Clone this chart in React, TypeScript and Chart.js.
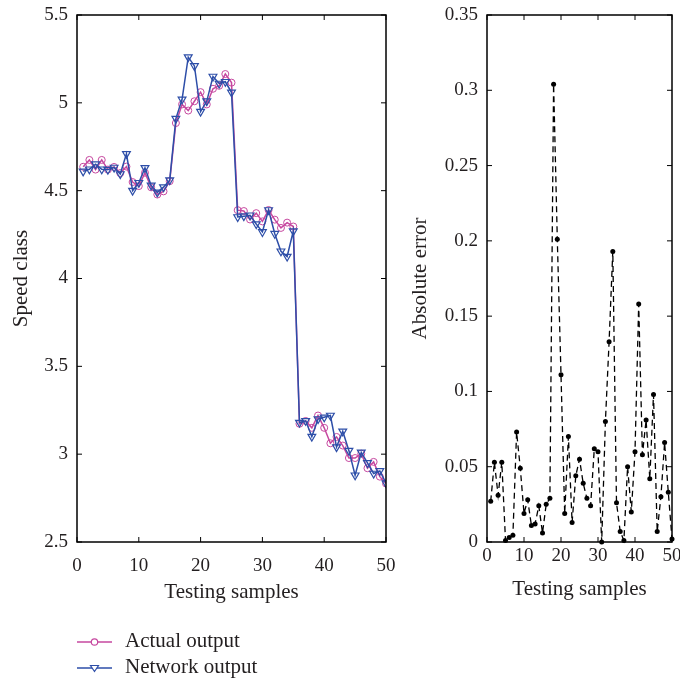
import React, { useEffect, useRef } from "react";
import { Chart, registerables } from "chart.js";

Chart.register(...registerables);

// ---------- data ----------
const samples = [
  1, 2, 3, 4, 5, 6, 7, 8, 9, 10, 11, 12, 13, 14, 15, 16, 17, 18, 19, 20, 21, 22, 23, 24, 25,
  26, 27, 28, 29, 30, 31, 32, 33, 34, 35, 36, 37, 38, 39, 40, 41, 42, 43, 44, 45, 46, 47, 48, 49, 50,
];
const actualOutput = [
  4.636, 4.675, 4.62, 4.675, 4.62, 4.635, 4.6, 4.637, 4.549, 4.526,
  4.602, 4.519, 4.478, 4.496, 4.554, 4.885, 4.991, 4.956, 5.009, 5.061,
  4.991, 5.08, 5.097, 5.164, 5.115, 4.389, 4.384, 4.336, 4.372, 4.325,
  4.39, 4.335, 4.288, 4.318, 4.296, 3.173, 3.189, 3.15, 3.22, 3.15,
  3.062, 3.098, 3.049, 2.978, 2.978, 3.003, 2.92, 2.956, 2.872, 2.833,
];
const networkOutput = [
  4.61, 4.622, 4.651, 4.622, 4.62, 4.632, 4.595, 4.71, 4.5, 4.545,
  4.63, 4.53, 4.49, 4.52, 4.56, 4.91, 5.02, 5.26, 5.21, 4.95,
  5.01, 5.15, 5.11, 5.12, 5.06, 4.35, 4.355, 4.36, 4.31, 4.265,
  4.39, 4.255, 4.155, 4.125, 4.27, 3.18, 3.19, 3.1, 3.2, 3.21,
  3.22, 3.04, 3.13, 3.02, 2.88, 3.01, 2.95, 2.89, 2.905, 2.835,
];
const absoluteError = [
  0.027, 0.053, 0.031, 0.053, 0.001, 0.003, 0.0045, 0.073, 0.049, 0.019,
  0.028, 0.011, 0.012, 0.024, 0.006, 0.025, 0.029, 0.304, 0.201, 0.111,
  0.019, 0.07, 0.013, 0.044, 0.055, 0.039, 0.029, 0.024, 0.062, 0.06,
  0.0, 0.08, 0.133, 0.193, 0.026, 0.007, 0.001, 0.05, 0.02, 0.06,
  0.158, 0.058, 0.081, 0.042, 0.098, 0.007, 0.03, 0.066, 0.033, 0.002,
];

const sampleTicks = [0, 10, 20, 30, 40, 50];
const sampleTickLabels = ["0", "10", "20", "30", "40", "50"];
const speedTicks = [2.5, 3, 3.5, 4, 4.5, 5, 5.5];
const speedTickLabels = ["2.5", "3", "3.5", "4", "4.5", "5", "5.5"];
const errorTicks = [0, 0.05, 0.1, 0.15, 0.2, 0.25, 0.3, 0.35];
const errorTickLabels = ["0", "0.05", "0.1", "0.15", "0.2", "0.25", "0.3", "0.35"];
const legendLabels = ["Actual output", "Network output"];

// ---------- style ----------
const FONT = '"Liberation Serif", "Times New Roman", serif';
const TEXT = "#231f20";
const PINK = "#c6479f";
const BLUE = "#2d4ea8";

const framePlugin = {
  id: "frameTicks",
  afterDatasetsDraw(chart: any) {
    const { ctx, chartArea: a, scales } = chart;
    const xs = scales.x;
    const ys = scales.y;
    const tl = 5;
    ctx.save();
    ctx.strokeStyle = "#000";
    ctx.lineWidth = 1;
    ctx.beginPath();
    xs.ticks.forEach((t: any) => {
      const px = xs.getPixelForValue(t.value);
      ctx.moveTo(px, a.bottom);
      ctx.lineTo(px, a.bottom - tl);
      ctx.moveTo(px, a.top);
      ctx.lineTo(px, a.top + tl);
    });
    ys.ticks.forEach((t: any) => {
      const py = ys.getPixelForValue(t.value);
      ctx.moveTo(a.left, py);
      ctx.lineTo(a.left + tl, py);
      ctx.moveTo(a.right, py);
      ctx.lineTo(a.right - tl, py);
    });
    ctx.stroke();
    ctx.lineWidth = 1.5;
    ctx.strokeRect(a.left, a.top, a.right - a.left, a.bottom - a.top);
    ctx.restore();
  },
};

const legendPlugin = {
  id: "customLegend",
  afterDraw(chart: any) {
    const ctx = chart.ctx;
    const rows = [
      { label: legendLabels[0], color: PINK, y: 642, marker: "circle" },
      { label: legendLabels[1], color: BLUE, y: 668, marker: "triangle" },
    ];
    ctx.save();
    rows.forEach((r) => {
      ctx.strokeStyle = r.color;
      ctx.lineWidth = 1.5;
      ctx.beginPath();
      ctx.moveTo(77, r.y);
      ctx.lineTo(112, r.y);
      ctx.stroke();
      ctx.beginPath();
      ctx.lineWidth = 1.2;
      if (r.marker === "circle") {
        ctx.fillStyle = "#fff";
        ctx.arc(94.5, r.y, 3.2, 0, Math.PI * 2);
        ctx.fill();
        ctx.stroke();
      } else {
        ctx.fillStyle = "#fff";
        ctx.moveTo(90.5, r.y - 2.5);
        ctx.lineTo(98.5, r.y - 2.5);
        ctx.lineTo(94.5, r.y + 3.5);
        ctx.closePath();
        ctx.fill();
        ctx.stroke();
      }
      ctx.fillStyle = TEXT;
      ctx.font = `21px ${FONT}`;
      ctx.textBaseline = "middle";
      ctx.textAlign = "left";
      ctx.fillText(r.label, 125, r.y - 1);
    });
    ctx.restore();
  },
};

function axisX(labelPad: number, height: number) {
  return {
    type: "linear" as const,
    min: 0,
    max: 50,
    afterBuildTicks: (s: any) => {
      s.ticks = sampleTicks.map((v) => ({ value: v }));
    },
    afterFit: (s: any) => {
      s.height = height;
      s.paddingLeft = 0;
      s.paddingRight = 0;
    },
    grid: { display: false, drawTicks: false },
    border: { display: false },
    ticks: {
      padding: labelPad,
      color: TEXT,
      font: { family: FONT, size: 19 },
      maxRotation: 0,
      autoSkip: false,
      callback: (_v: any, i: number) => sampleTickLabels[i],
    },
    title: {
      display: true,
      text: "Testing samples",
      color: TEXT,
      font: { family: FONT, size: 21 },
      padding: 0,
    },
  };
}

function axisY(ticks: number[], labels: string[], width: number, title: string, titlePad: number) {
  return {
    type: "linear" as const,
    min: ticks[0],
    max: ticks[ticks.length - 1],
    afterBuildTicks: (s: any) => {
      s.ticks = ticks.map((v) => ({ value: v }));
    },
    afterFit: (s: any) => {
      s.width = width;
      s.paddingTop = 0;
      s.paddingBottom = 0;
    },
    grid: { display: false, drawTicks: false },
    border: { display: false },
    ticks: {
      padding: 9,
      color: TEXT,
      font: { family: FONT, size: 19 },
      autoSkip: false,
      callback: (_v: any, i: number) => labels[i],
    },
    title: {
      display: true,
      text: title,
      color: TEXT,
      font: { family: FONT, size: 21 },
      padding: { top: titlePad, bottom: 0 },
    },
  };
}

export default function App() {
  const leftRef = useRef<HTMLCanvasElement>(null);
  const rightRef = useRef<HTMLCanvasElement>(null);

  useEffect(() => {
    const left = new Chart(leftRef.current as HTMLCanvasElement, {
      type: "line",
      data: {
        datasets: [
          {
            label: legendLabels[0],
            data: samples.map((s, i) => ({ x: s, y: actualOutput[i] })),
            borderColor: PINK,
            borderWidth: 1.5,
            pointStyle: "circle",
            pointRadius: 3.5,
            pointBorderWidth: 1,
            pointBorderColor: PINK,
            pointBackgroundColor: "rgba(255,255,255,0)",
            order: 1,
          },
          {
            label: legendLabels[1],
            data: samples.map((s, i) => ({ x: s, y: networkOutput[i] })),
            borderColor: BLUE,
            borderWidth: 1.5,
            pointStyle: "triangle",
            pointRotation: 180,
            pointRadius: 4.5,
            pointBorderWidth: 1.2,
            pointBorderColor: BLUE,
            pointBackgroundColor: "rgba(255,255,255,0)",
            order: 0,
          },
        ],
      },
      options: {
        responsive: false,
        animation: false,
        devicePixelRatio: 1,
        layout: { padding: { top: 15, right: 14, bottom: 77, left: 0 } },
        plugins: { legend: { display: false }, tooltip: { enabled: false } },
        scales: {
          x: axisX(13, 63),
          y: axisY(speedTicks, speedTickLabels, 77, "Speed class", 9),
        },
      } as any,
      plugins: [framePlugin, legendPlugin],
    });

    const right = new Chart(rightRef.current as HTMLCanvasElement, {
      type: "line",
      data: {
        datasets: [
          {
            label: "Absolute error",
            data: samples.map((s, i) => ({ x: s, y: absoluteError[i] })),
            borderColor: "#000",
            borderWidth: 1.3,
            borderDash: [6, 4],
            pointStyle: "circle",
            pointRadius: 2.5,
            pointBorderWidth: 0,
            pointBackgroundColor: "#000",
            clip: 4,
          },
        ],
      },
      options: {
        responsive: false,
        animation: false,
        devicePixelRatio: 1,
        layout: { padding: { top: 15, right: 8, bottom: 80, left: 0 } },
        plugins: { legend: { display: false }, tooltip: { enabled: false } },
        scales: {
          x: axisX(3, 60),
          y: axisY(errorTicks, errorTickLabels, 87, "Absolute error", 8),
        },
      } as any,
      plugins: [framePlugin],
    });

    return () => {
      left.destroy();
      right.destroy();
    };
  }, []);

  return (
    <div style={{ position: "absolute", left: 0, top: 0, width: 680, height: 682, background: "#fff" }}>
      <canvas ref={leftRef} width={400} height={682} style={{ position: "absolute", left: 0, top: 0 }} />
      <canvas ref={rightRef} width={280} height={682} style={{ position: "absolute", left: 400, top: 0 }} />
    </div>
  );
}
